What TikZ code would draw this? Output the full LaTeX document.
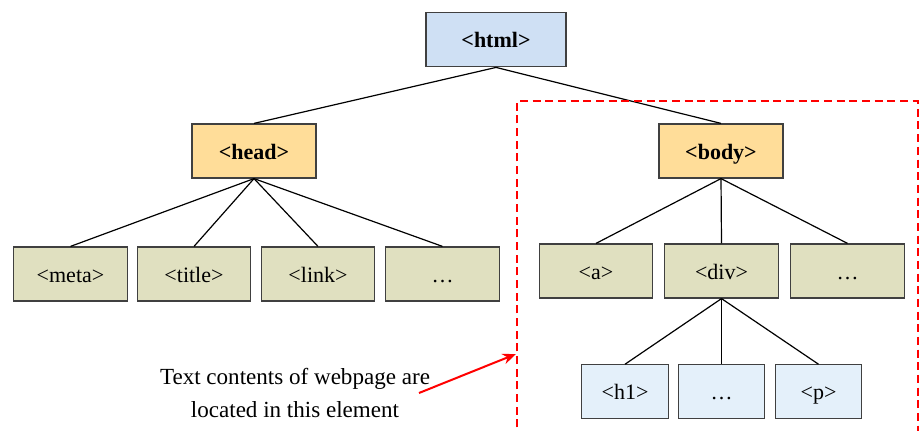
\documentclass[tikz,border=0pt]{standalone}
\usepackage{fontspec}
\setmainfont{Liberation Serif}
\usepackage{xcolor}
\usetikzlibrary{arrows.meta,positioning}
\definecolor{rootblue}{HTML}{CFE0F4}
\definecolor{secorange}{HTML}{FFDD99}
\definecolor{leafolive}{HTML}{E0E0C0}
\definecolor{subblue}{HTML}{E4F0FA}
\definecolor{boxline}{HTML}{404040}
\tikzset{
  tag/.style={rectangle,draw=boxline,line width=0.9pt,font=\fontsize{16.5}{19}\selectfont,inner sep=0pt,text height=14pt,text depth=2pt},
  rootbox/.style={tag,fill=rootblue,minimum width=105pt,minimum height=41pt,font=\fontsize{16.5}{19}\selectfont\bfseries},
  secbox/.style={tag,fill=secorange,minimum width=93pt,minimum height=40.5pt,font=\fontsize{16.5}{19}\selectfont\bfseries},
  leafbox/.style={tag,fill=leafolive,minimum width=85pt,minimum height=40.5pt},
  subbox/.style={tag,fill=subblue,minimum width=65pt,minimum height=40pt},
  edge/.style={line width=0.9pt}
}
\begin{document}
\begin{tikzpicture}[x=0.75pt,y=-0.75pt]
    \useasboundingbox (0,0) rectangle (919,431);
    % root
    \node[rootbox] (html) at (496,39.5) {<html>};
    % second level
    \node[secbox] (head) at (254,151) {<head>};
    \node[secbox] (body) at (721,151) {<body>};
    % children of head
    \node[leafbox] (meta) at (70.5,274) {<meta>};
    \node[leafbox] (title) at (194,274) {<title>};
    \node[leafbox] (link) at (318,274) {<link>};
    \node[leafbox] (hdots) at (442.5,274) {…};
    % children of body
    \node[leafbox] (a) at (596,271) {<a>};
    \node[leafbox] (div) at (721.5,271) {<div>};
    \node[leafbox] (bdots) at (847.5,271) {…};
    % children of div
    \node[subbox] (h1) at (625,391.5) {<h1>};
    \node[subbox] (ddots) at (721.5,391.5) {…};
    \node[subbox] (p) at (818.5,391.5) {<p>};
    % edges
    \draw[edge] (html.south) -- (head.north);
    \draw[edge] (html.south) -- (body.north);
    \foreach \c in {meta,title,link,hdots}
      \draw[edge] (head.south) -- (\c.north);
    \foreach \c in {a,div,bdots}
      \draw[edge] (body.south) -- (\c.north);
    \foreach \c in {h1,ddots,p}
      \draw[edge] (div.south) -- (\c.north);
    % highlighted region
    \coordinate (bl) at (517,440);
    \coordinate (tl) at (517,101);
    \coordinate (tr) at (917.5,101);
    \coordinate (br) at (917.5,440);
    \draw[red,line width=1.5pt,dash pattern=on 6pt off 3.5pt] (bl) -- (tl) -- (tr) -- (br);
    % note
    \node[align=center,font=\fontsize{17.3}{24.5}\selectfont] (note) at (295,393) {Text contents of webpage are\\located in this element};
    \coordinate (tip) at (516,354);
    \draw[red,line width=1.5pt,-{Stealth[length=10pt,width=8pt]}] (419,393) -- (tip);
\end{tikzpicture}
\end{document}
